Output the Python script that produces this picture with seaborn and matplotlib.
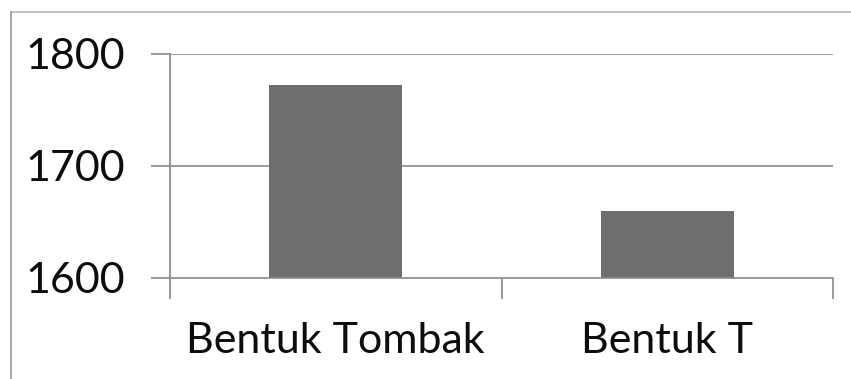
import matplotlib
matplotlib.use("Agg")
import matplotlib.pyplot as plt
from matplotlib.lines import Line2D
import seaborn as sns
import pandas as pd

categories = ["Bentuk Tombak", "Bentuk T"]
values = [1772, 1660]
y_ticks = [1600, 1700, 1800]

sns.set_theme(style="white")
plt.rcParams["font.family"] = ["Lato", "DejaVu Sans"]

W, H = 851, 379
fig = plt.figure(figsize=(W / 100, H / 100), dpi=100)
ax = fig.add_axes([170 / W, (H - 278) / H, (833 - 170) / W, (278 - 54) / H])

df = pd.DataFrame({"cat": categories, "val": values})
sns.barplot(data=df, x="cat", y="val", ax=ax, color="#6e6e6e",
            width=0.4, saturation=1, edgecolor="none")

ax.set_ylim(y_ticks[0], y_ticks[-1])
ax.set_xlim(-0.5, len(categories) - 0.5)
ax.set_xlabel("")
ax.set_ylabel("")

grid_col = "#8a8a8a"
text_kw = dict(fontsize=31, color="#0d0d0d", fontweight="normal")
ax.set_yticks(y_ticks)
ax.set_yticklabels([str(t) for t in y_ticks], **text_kw)
for t in y_ticks[1:]:
    ax.axhline(t, color=grid_col, lw=1.2, zorder=0)

# category boundaries carry the tick marks, centres carry the labels
ax.set_xticks([i - 0.5 for i in range(len(categories) + 1)])
ax.set_xticklabels([])
ax.set_xticks(range(len(categories)), minor=True)
ax.set_xticklabels(categories, minor=True, **text_kw)
ax.tick_params(axis="x", which="minor", bottom=True, length=0, pad=32)
ax.tick_params(axis="x", which="major", bottom=True, length=15, width=1.2,
               color=grid_col, direction="out")
ax.tick_params(axis="y", left=True, length=14, width=1.2, color=grid_col,
               direction="out", pad=18)

for side in ["top", "right"]:
    ax.spines[side].set_visible(False)
for side in ["left", "bottom"]:
    ax.spines[side].set_color(grid_col)
    ax.spines[side].set_linewidth(1.2)

# outer chart frame
fig.add_artist(Line2D([11 / W, 1.0], [(H - 12) / H] * 2, color="#b5b5b5", lw=1.2))
fig.add_artist(Line2D([11 / W] * 2, [0, (H - 12) / H], color="#9a9a9a", lw=1.2))

fig.savefig("out.png", dpi=100)
